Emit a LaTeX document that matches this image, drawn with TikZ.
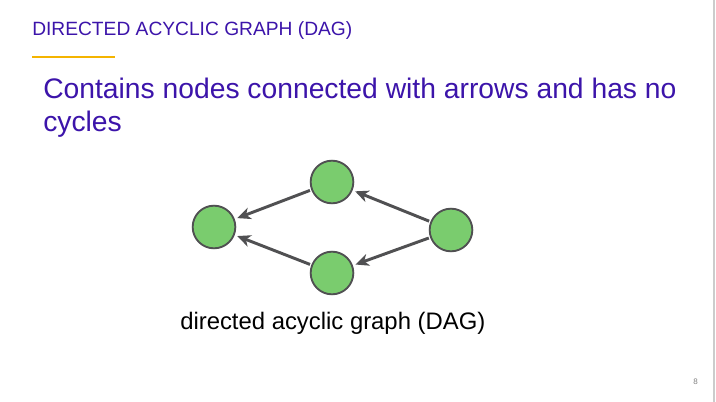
\documentclass[tikz,border=0pt]{standalone}
\usepackage{fontspec}
\setmainfont{Liberation Sans}
\usetikzlibrary{arrows.meta}
\definecolor{titleviolet}{RGB}{60,20,170}
\definecolor{ruleyellow}{RGB}{244,180,0}
\definecolor{nodegreen}{RGB}{122,204,110}
\definecolor{edgegrey}{RGB}{80,80,82}
\tikzset{
  dagnode/.style={circle, draw=edgegrey, line width=1.4pt, fill=nodegreen, minimum size=32pt, inner sep=0pt},
  dagedge/.style={-{Stealth[length=10pt,width=9pt,inset=3pt]}, draw=edgegrey, line width=2.2pt, shorten >=2pt, shorten <=1pt},
  slidetext/.style={anchor=base west, inner sep=0pt}
}
\begin{document}
\begin{tikzpicture}[x=0.75pt, y=-0.75pt]
  \useasboundingbox (0,0) rectangle (716,402);
  \fill[white] (0,0) rectangle (716,402);
  \draw[gray!40, line width=1pt] (714,0) -- (714,402);

  % Title and rule
  \node[slidetext, text=titleviolet, font=\fontsize{14.4}{17}\selectfont] (title) at (32,36) {DIRECTED ACYCLIC GRAPH (DAG)};
  \draw[ruleyellow, line width=1.6pt] (32,57) -- (115,57);

  % Main statement
  \node[slidetext, text=titleviolet, font=\fontsize{21.2}{25}\selectfont] (line1) at (43,99) {Contains nodes connected with arrows and has no};
  \node[slidetext, text=titleviolet, font=\fontsize{21.2}{25}\selectfont] (line2) at (43,132) {cycles};

  % Define the nodes
  \node[dagnode] (sink) at (214,227) {};
  \node[dagnode] (up) at (332,182) {};
  \node[dagnode] (down) at (332,273) {};
  \node[dagnode] (source) at (451,230) {};

  % Draw arrows between nodes
  \draw[dagedge] (up) -- (sink);
  \draw[dagedge] (down) -- (sink);
  \draw[dagedge] (source) -- (up);
  \draw[dagedge] (source) -- (down);

  % Caption and page number
  \node[slidetext, font=\fontsize{17.9}{21}\selectfont] (caption) at (180,329) {directed acyclic graph (DAG)};
  \node[slidetext, text=gray, font=\fontsize{6}{7}\selectfont] (page) at (693,384) {8};
\end{tikzpicture}
\end{document}
